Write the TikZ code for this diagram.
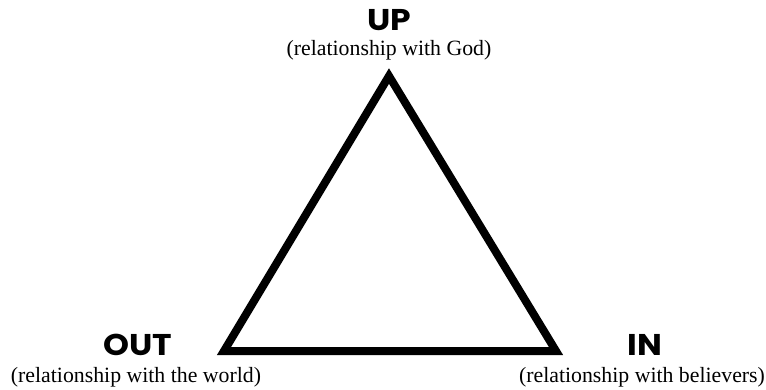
\documentclass[tikz,border=0pt]{standalone}
\usepackage{fontspec}
\setmainfont{Liberation Serif}
\newfontfamily\popfont{Poppins}
\tikzset{
  head/.style={font=\popfont\bfseries\fontsize{30}{30}\selectfont, inner sep=0pt, anchor=base, xscale=1.1},
  sub/.style={font=\fontsize{21.8}{23}\selectfont, inner sep=0pt, anchor=base},
  tri/.style={line width=8pt, line join=miter, draw=black}
}
\begin{document}
\begin{tikzpicture}[x=1pt,y=-1pt]
\useasboundingbox (0,0) rectangle (766,389);
\coordinate (top) at (389,76);
\coordinate (bl) at (224,351);
\coordinate (br) at (556,351);
\draw[tri] (top) -- (bl) -- (br) -- cycle;
\node[head] (up) at (389,30) {UP};
\node[sub] (upsub) at (389,55) {(relationship with God)};
\node[head] (out) at (138,355) {OUT};
\node[sub] (outsub) at (136,382) {(relationship with the world)};
\node[head] (in) at (645,355.5) {IN};
\node[sub] (insub) at (642,382) {(relationship with believers)};
\end{tikzpicture}
\end{document}
